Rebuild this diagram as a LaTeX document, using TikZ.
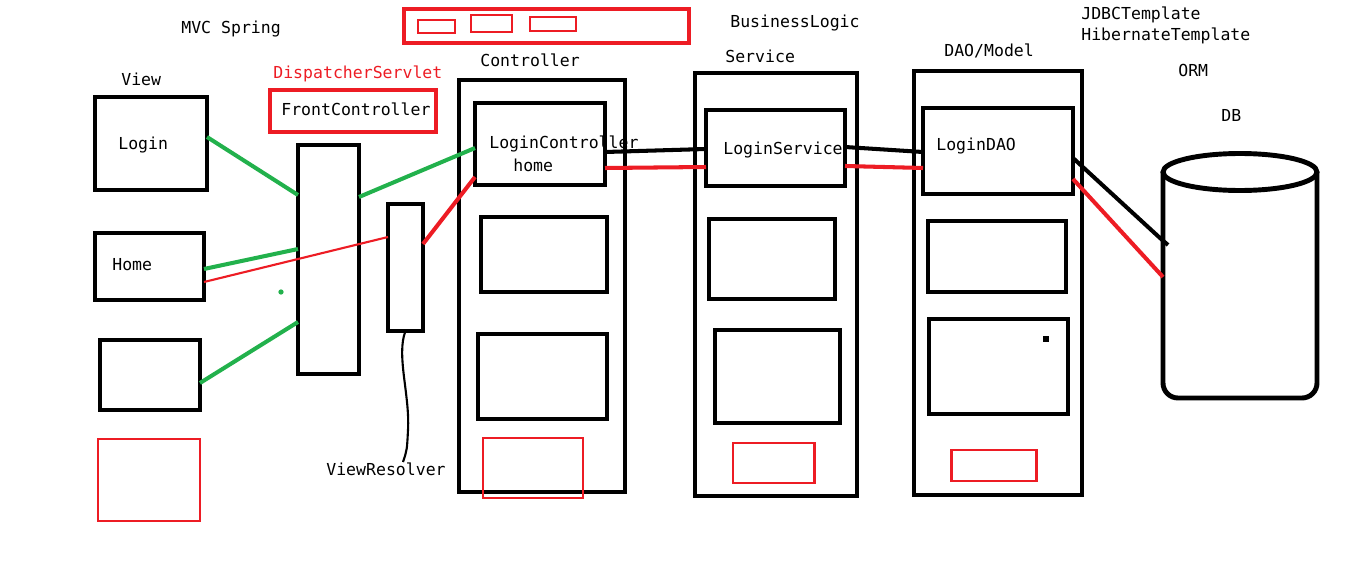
\documentclass[tikz,border=0pt]{standalone}
\usepackage{fontspec}
\newfontfamily\sketchfont{DejaVu Sans Mono}
\usetikzlibrary{fit,calc}
\definecolor{paintred}{RGB}{237,28,36}
\definecolor{paintgreen}{RGB}{34,177,76}
\tikzset{
  box/.style={draw=black, line width=2.8pt, inner sep=0pt, outer sep=0pt},
  redbox/.style={draw=paintred, line width=1.7pt, inner sep=0pt, outer sep=0pt},
  txt/.style={anchor=base west, inner sep=0pt, font=\sketchfont\fontsize{9.4}{11}\selectfont},
  greenwire/.style={paintgreen, line width=2.3pt},
  redwire/.style={paintred, line width=2.3pt},
  blackwire/.style={black, line width=2.3pt},
}
\begin{document}
\begin{tikzpicture}[x=0.02cm, y=-0.02cm]
\useasboundingbox (0,0) rectangle (1360,568);

% titles
\node[txt] (mvc) at (181,33) {MVC Spring};
\node[txt] (businesslbl) at (730,28) {BusinessLogic};
\node[txt] (jdbclbl) at (1081,19) {JDBCTemplate};
\node[txt] (hibernatelbl) at (1081,40) {HibernateTemplate};
\node[txt] (ormlbl) at (1178,76) {ORM};
\node[txt] (dblbl) at (1221,121) {DB};
\node[txt] (daolbl) at (944,56) {DAO/Model};
\node[txt] (servicelbl) at (725,62) {Service};
\node[txt] (controllerlbl) at (480,66) {Controller};
\node[txt, text=paintred] (dispatcherlbl) at (273,78) {DispatcherServlet};
\node[txt] (viewlbl) at (121,85) {View};
\node[txt] (resolverlbl) at (326,475) {ViewResolver};

% top red strip
\node[redbox, line width=2pt, fit={(404,9) (689,43)}] (strip) {};
\node[redbox, fit={(418,20) (455,33)}] (strip1) {};
\node[redbox, fit={(471,15) (512,32)}] (strip2) {};
\node[redbox, fit={(530,17) (576,31)}] (strip3) {};

% view
\node[box, fit={(95,97) (207,190)}] (login) {};
\node[box, fit={(95,233) (204,300)}] (home) {};
\node[box, fit={(100,340) (200,410)}] (view3) {};
\node[redbox, fit={(98,439) (200,521)}] (view4) {};
\node[txt] at (118,149) {Login};
\node[txt] at (112,270) {Home};

% dispatcher servlet
\node[redbox, line width=2.8pt, fit={(270,90) (436,132)}] (frontbox) {};
\node[txt] at (281,115) {FrontController};
\node[box, fit={(298,145) (359,374)}] (front) {};
\node[box, fit={(388,204) (423,331)}] (resolver) {};

% controller
\node[box, fit={(459,80) (625,492)}] (controller) {};
\node[box, fit={(475,103) (605,185)}] (loginctl) {};
\node[box, fit={(481,217) (607,292)}] (ctl2) {};
\node[box, fit={(478,334) (607,419)}] (ctl3) {};
\node[redbox, fit={(483,438) (583,498)}] (ctl4) {};
\node[txt] at (489,148) {LoginController};
\node[txt] at (513,171) {home};

% service
\node[box, fit={(695,73) (857,496)}] (service) {};
\node[box, fit={(706,110) (845,186)}] (loginsrv) {};
\node[box, fit={(709,219) (835,299)}] (srv2) {};
\node[box, fit={(715,330) (840,423)}] (srv3) {};
\node[redbox, fit={(733,443) (814,483)}] (srv4) {};
\node[txt] at (723,154) {LoginService};

% dao
\node[box, fit={(914,71) (1082,495)}] (dao) {};
\node[box, fit={(923,108) (1073,194)}] (logindao) {};
\node[box, fit={(928,221) (1066,292)}] (dao2) {};
\node[box, fit={(929,319) (1068,414)}] (dao3) {};
\node[redbox, fit={(951,450) (1036,481)}] (dao4) {};
\node[txt] at (936,150) {LoginDAO};
\fill (1043,336) rectangle (1049,342);

% database
\node[inner sep=0pt, outer sep=0pt, fit={(1163,172) (1317,398)}] (db) {};
\draw[line width=2.8pt, rounded corners=0.3cm] (db.north west) -- (db.south west) -- (db.south east) -- (db.north east);
\draw[line width=2.8pt] (db.north) ellipse [x radius=1.54cm, y radius=0.37cm];

% connectors
\draw[greenwire] (login.east |- 0,137) -- (front.west |- 0,195);
\draw[greenwire] (front.east |- 0,197) -- (loginctl.west |- 0,148);
\draw[greenwire] (home.east |- 0,269) -- (front.west |- 0,249);
\draw[greenwire] (view3.east |- 0,383) -- (front.west |- 0,322);
\fill[paintgreen] (281,292) circle (1.5pt);
\draw[redwire, line width=1.2pt] (home.east |- 0,282) -- (resolver.west |- 0,237);
\draw[redwire] (resolver.east |- 0,244) -- (loginctl.west |- 0,177);
\draw[line width=1.2pt] (resolver.south) .. controls (396,355) and (410,395) .. (408,430) .. controls (407,450) .. ($(resolverlbl.north)+(17,0)$);

\draw[blackwire] (loginctl.east |- 0,152) -- (loginsrv.west |- 0,149);
\draw[redwire] (loginctl.east |- 0,168) -- (loginsrv.west |- 0,167);
\draw[blackwire] (loginsrv.east |- 0,147) -- (logindao.west |- 0,152);
\draw[redwire] (loginsrv.east |- 0,166) -- (logindao.west |- 0,168);
\draw[blackwire] (logindao.east |- 0,158) -- (1160,238) -- ($(db.west |- 0,245)+(5,0)$);
\draw[redwire] (logindao.east |- 0,179) -- (db.west |- 0,277);
\end{tikzpicture}
\end{document}
